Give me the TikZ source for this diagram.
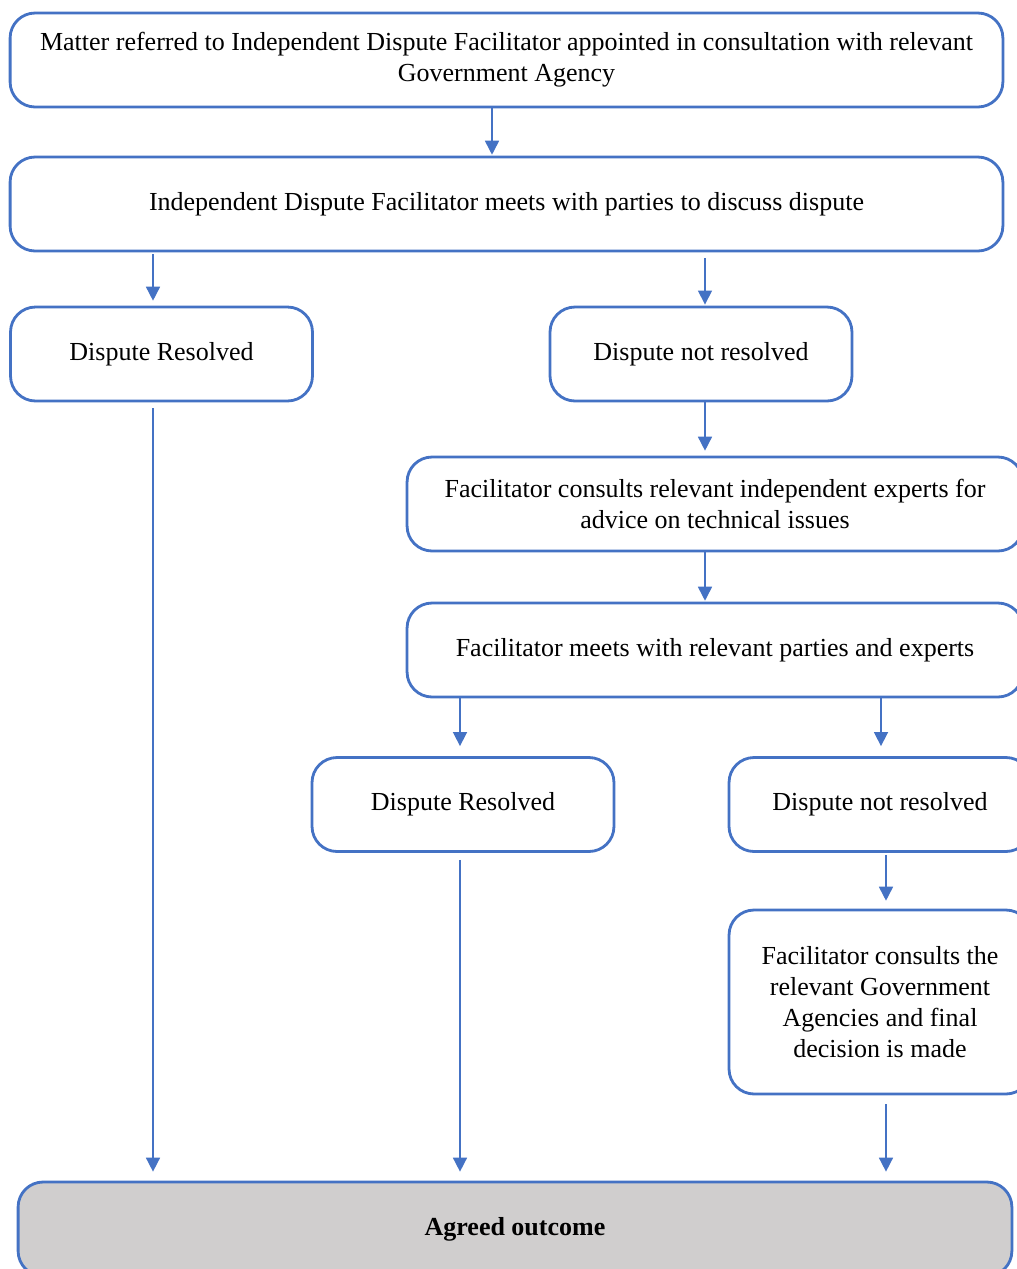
\documentclass[tikz,border=0pt]{standalone}
\usepackage{fontspec}
\setmainfont{Liberation Serif}
\usepackage{xcolor}
\usetikzlibrary{arrows.meta,positioning,calc}
\definecolor{flowblue}{HTML}{4472C4}
\definecolor{outgray}{HTML}{D0CECE}
\tikzset{
    box/.style ={rectangle, draw=flowblue, line width=1.6pt, rounded corners=0.5cm,
                 align=center, inner sep=0pt, minimum height=1.88cm,
                 font=\fontsize{14.8}{17.6}\selectfont},
    wide/.style ={box, minimum width=19.86cm},
    half/.style ={box, minimum width=12.32cm},
    small/.style={box, minimum width=6.04cm},
    arr/.style ={-{Triangle[length=0.28cm,width=0.28cm]}, draw=flowblue, line width=0.9pt}
}
\begin{document}
\begin{tikzpicture}[x=0.02cm,y=-0.02cm]
        \useasboundingbox (0,0) rectangle (1017,1269);
        \clip (0,0) rectangle (1017,1269);

        \node[wide] (refer) at (506.5,60) {Matter referred to Independent Dispute Facilitator appointed in consultation with relevant\\Government Agency};
        \node[wide] (meet) at (506.5,204) {Independent Dispute Facilitator meets with parties to discuss dispute};

        \node[small] (res1) at (161.5,354) {Dispute Resolved};
        \node[small] (notres1) at (701,354) {Dispute not resolved};

        \node[half] (consult) at (715,504) {Facilitator consults relevant independent experts for\\advice on technical issues};
        \node[half] (meetexp) at (715,650) {Facilitator meets with relevant parties and experts};

        \node[small] (res2) at (463,804.5) {Dispute Resolved};
        \node[small] (notres2) at (880,804.5) {Dispute not resolved};
        \node[small, minimum height=3.68cm] (decide) at (880,1002) {Facilitator consults the\\relevant Government\\Agencies and final\\decision is made};

        \node[box, minimum width=19.88cm, fill=outgray, font=\fontsize{14.8}{17.6}\selectfont\bfseries] (outcome) at (515,1229) {Agreed outcome};

        \draw[arr, shorten >=0.5pt] ([xshift=-0.29cm]refer.south) -- ([xshift=-0.29cm]refer.south |- meet.north);
        \draw[arr, shorten <=1.1pt, shorten >=2.8pt] ([xshift=-0.17cm]res1.north |- meet.south) -- ([xshift=-0.17cm]res1.north);
        \draw[arr, shorten <=3.4pt, shorten >=0.6pt] ([xshift=0.08cm]notres1.north |- meet.south) -- ([xshift=0.08cm]notres1.north);
        \draw[arr, shorten >=2.8pt] ([xshift=0.08cm]notres1.south) -- ([xshift=0.08cm]notres1.south |- consult.north);
        \draw[arr, shorten >=0.5pt] ([xshift=-0.2cm]consult.south) -- ([xshift=-0.2cm]meetexp.north);
        \draw[arr, shorten >=5.7pt] ([xshift=-0.06cm]res2.north |- meetexp.south) -- ([xshift=-0.06cm]res2.north);
        \draw[arr, shorten >=5.7pt] ([xshift=0.02cm]notres2.north |- meetexp.south) -- ([xshift=0.02cm]notres2.north);
        \draw[arr, shorten <=1.1pt, shorten >=4.5pt] ([xshift=0.12cm]notres2.south) -- ([xshift=0.12cm]decide.north);

        \draw[arr, shorten <=3.4pt, shorten >=5.1pt] ([xshift=-0.17cm]res1.south) -- ([xshift=-0.17cm]res1.south |- outcome.north);
        \draw[arr, shorten <=4pt, shorten >=5.1pt] ([xshift=-0.06cm]res2.south) -- ([xshift=-0.06cm]res2.south |- outcome.north);
        \draw[arr, shorten <=5.1pt, shorten >=5.1pt] ([xshift=0.12cm]decide.south) -- ([xshift=0.12cm]decide.south |- outcome.north);
\end{tikzpicture}
\end{document}
